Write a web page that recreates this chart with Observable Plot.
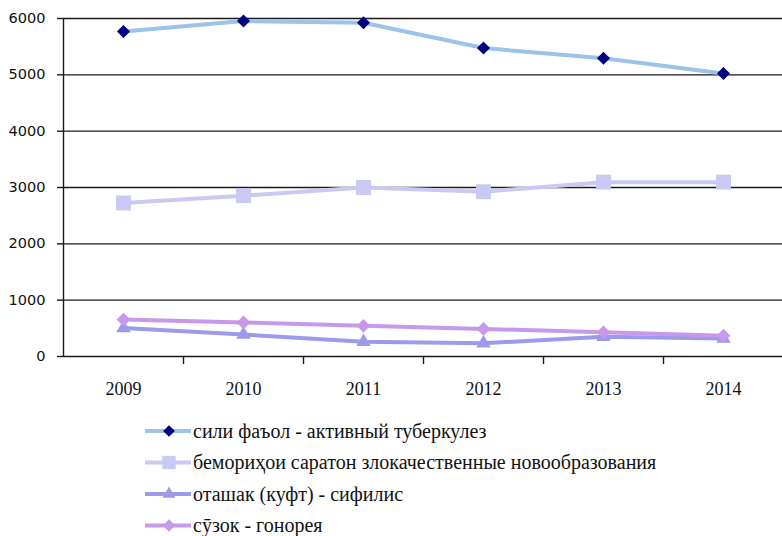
<!DOCTYPE html>
<html><head><meta charset="utf-8">
<script src="https://cdn.jsdelivr.net/npm/d3@7"></script>
<script src="https://cdn.jsdelivr.net/npm/@observablehq/plot@0.6"></script>
<style>
body{margin:0;background:#fff;}
#chart{width:782px;height:536px;position:relative;overflow:hidden;}
#plot svg,#legend svg{display:block;}
</style></head><body><div id="chart"><div id="plot"></div><div id="legend"></div></div>
<script>
const years=[2009,2010,2011,2012,2013,2014];
const seriesNames=[
  "сили фаъол - активный туберкулез",
  "бемориҳои саратон злокачественные новообразования",
  "оташак (куфт) - сифилис",
  "сӯзок - гонорея"
];
const tuberculosis=[5770,5955,5925,5475,5295,5025];
const cancer=[2725,2855,3000,2925,3095,3095];
const syphilis=[505,390,260,235,350,320];
const gonorrhea=[655,605,545,490,430,370];
const yTicks=[0,1000,2000,3000,4000,5000,6000];

const lineColors=["#9cc3e8","#c9c9f3","#9b9be9","#c898ea"];
const markerColors=["#000080","#c9c9f3","#9b9be9","#c898ea"];
const symbols=["diamond2","square","triangle","diamond2"];
const radii=[5.9,8.4,5.4,6.2];
const values=[tuberculosis,cancer,syphilis,gonorrhea];

const tables=values.map((vals,i)=>years.map((y,j)=>({series:seriesNames[i],year:y,value:vals[j]})));
const boundaries=years.map(y=>y+0.5);

const marks=[
  Plot.ruleY(yTicks.filter(d=>d>0),{stroke:"#1a1a1a",strokeWidth:1.4}),
  Plot.axisY({ticks:yTicks,tickSize:6,tickPadding:12,fontSize:14.5,fontFamily:"DejaVu Sans",stroke:"#1a1a1a",strokeWidth:1.4,label:null,tickFormat:d=>String(d),color:"#111"}),
  Plot.ruleX([2008.5],{stroke:"#1a1a1a",strokeWidth:1.4}),
  Plot.ruleY([0],{stroke:"#1a1a1a",strokeWidth:1.6}),
  Plot.axisX({ticks:boundaries,tickSize:8,tickFormat:()=>"",stroke:"#1a1a1a",strokeWidth:1.4,label:null}),
  Plot.axisX({ticks:years,tickSize:0,tickPadding:26,tickFormat:d=>String(d),fontSize:18,fontFamily:"Liberation Serif",label:null,color:"#111"})
];
tables.forEach((t,i)=>{
  marks.push(Plot.line(t,{x:"year",y:"value",stroke:lineColors[i],strokeWidth:4}));
  marks.push(Plot.dot(t,{x:"year",y:"value",symbol:()=>symbols[i],r:radii[i],fill:markerColors[i],stroke:"none"}));
});

const plot=Plot.plot({
  width:782,height:410,
  marginLeft:63,marginRight:0,marginTop:18,marginBottom:54,
  x:{type:"linear",domain:[2008.5,2014.5],range:[63,783]},
  y:{domain:[0,6000],range:[356,18]},
  symbol:{type:"identity"},
  style:{background:"#fff",overflow:"visible"},
  marks
});
document.getElementById("plot").appendChild(plot);

// legend (SVG, below the chart)
const symMap={diamond2:d3.symbolDiamond2,square:d3.symbolSquare,triangle:d3.symbolTriangle};
const leg=d3.create("svg").attr("width",782).attr("height",126);
seriesNames.forEach((name,i)=>{
  const cy=21+i*31.5;
  const g=leg.append("g").attr("transform",`translate(145,${cy})`);
  g.append("line").attr("x1",0).attr("x2",46).attr("y1",0).attr("y2",0).attr("stroke",lineColors[i]).attr("stroke-width",4);
  g.append("path").attr("transform","translate(24,0)")
    .attr("d",d3.symbol(symMap[symbols[i]],Math.PI*radii[i]*radii[i]*0.8)())
    .attr("fill",markerColors[i]);
  g.append("text").attr("x",48).attr("y",6.5)
    .attr("font-family","Liberation Serif")
    .attr("font-size",20).attr("fill","#111")
    .text(name);
});
document.getElementById("legend").appendChild(leg.node());
</script></body></html>
